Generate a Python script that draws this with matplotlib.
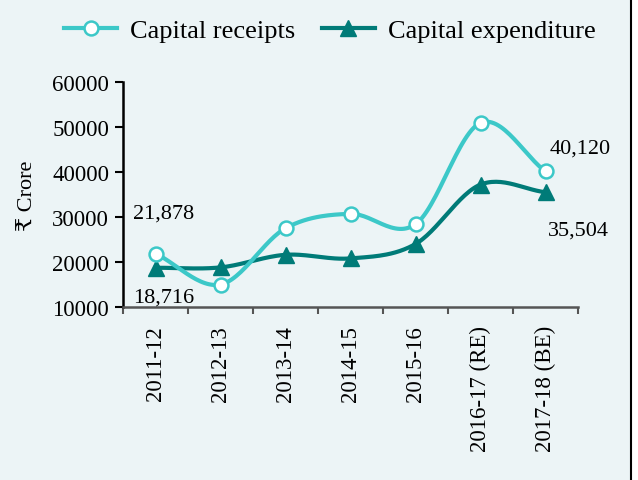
import matplotlib.pyplot as plt
import numpy as np
from matplotlib.lines import Line2D

years = ['2011-12', '2012-13', '2013-14', '2014-15', '2015-16',
         '2016-17 (RE)', '2017-18 (BE)']
receipts = [21878, 15000, 27500, 30700, 28400, 50900, 40120]
expenditure = [18716, 18800, 21600, 20800, 24000, 37200, 35504]
yticks = [10000, 20000, 30000, 40000, 50000, 60000]

c_rec = '#3cc8c8'
c_exp = '#007b78'
bg = '#ecf4f6'

plt.rcParams['font.family'] = ['Liberation Serif', 'DejaVu Serif', 'DejaVu Sans']


def smooth(x, y, n=30):
    # catmull-rom curve through the points, like a spreadsheet "smoothed line"
    x = np.asarray(x, float)
    y = np.asarray(y, float)
    px = np.concatenate([[2 * x[0] - x[1]], x, [2 * x[-1] - x[-2]]])
    py = np.concatenate([[2 * y[0] - y[1]], y, [2 * y[-1] - y[-2]]])
    xs, ys = [], []
    t = np.linspace(0, 1, n)
    for i in range(1, len(px) - 2):
        for p, out in ((px, xs), (py, ys)):
            p0, p1, p2, p3 = p[i - 1], p[i], p[i + 1], p[i + 2]
            out.extend(0.5 * (2 * p1 + (-p0 + p2) * t
                              + (2 * p0 - 5 * p1 + 4 * p2 - p3) * t ** 2
                              + (-p0 + 3 * p1 - 3 * p2 + p3) * t ** 3))
    return np.array(xs), np.array(ys)


fig = plt.figure(figsize=(6.38, 4.81), dpi=100)
fig.patch.set_facecolor('white')
fig.patches.append(plt.Rectangle((0, 0), 631 / 638, 1, transform=fig.transFigure,
                                 facecolor=bg, edgecolor='none', zorder=-10))
fig.lines.append(Line2D([631 / 638, 631 / 638], [0, 1], transform=fig.transFigure,
                        color='black', lw=1.5))

ax = fig.add_axes([123 / 638, 1 - 308 / 481, (578 - 123) / 638, (308 - 83) / 481])
ax.set_facecolor('none')

x = np.arange(len(years))
sx, sy = smooth(x, receipts)
ax.plot(sx, sy, color=c_rec, lw=3, zorder=2)
ax.plot(x, receipts, 'o', color=c_rec, mfc='white', mec=c_rec, mew=1.8, ms=10, zorder=4)
sx, sy = smooth(x, expenditure)
ax.plot(sx, sy, color=c_exp, lw=3, zorder=1)
ax.plot(x, expenditure, '^', color=c_exp, ms=11, zorder=3)

ax.set_xlim(-0.5, len(years) - 0.5)
ax.set_ylim(10000, 60000)
ax.set_yticks(yticks)
ax.set_yticklabels([str(v) for v in yticks], fontsize=16.5)
ax.set_xticks(np.arange(len(years) + 1) - 0.5)
ax.set_xticklabels([])
ax.set_xticks(x, minor=True)
ax.set_xticklabels(years, minor=True, rotation=90, fontsize=16.5)
ax.tick_params(axis='x', which='minor', length=0, pad=13)
ax.tick_params(axis='x', which='major', length=5, width=1.5, color='#555555')
ax.tick_params(axis='y', length=6, width=1.5, pad=4)
for s in ['top', 'right']:
    ax.spines[s].set_visible(False)
ax.spines['left'].set_linewidth(1.8)
ax.spines['bottom'].set_linewidth(1.8)
ax.spines['bottom'].set_color('#555555')
ax.set_ylabel('₹ Crore', fontsize=16, labelpad=10)

ax.text(-0.35, 30900, f'{receipts[0]:,}', fontsize=16, ha='left', va='center')
ax.text(-0.35, 12300, f'{expenditure[0]:,}', fontsize=16, ha='left', va='center')
ax.text(6.06, 45300, f'{receipts[-1]:,}', fontsize=16, ha='left', va='center')
ax.text(6.04, 27000, f'{expenditure[-1]:,}', fontsize=16, ha='left', va='center')

handles = [Line2D([], [], color=c_rec, lw=3, marker='o', mfc='white', mec=c_rec, mew=1.8, ms=10),
           Line2D([], [], color=c_exp, lw=3, marker='^', ms=11)]
fig.legend(handles, ['Capital receipts', 'Capital expenditure'], loc='center',
           bbox_to_anchor=(330 / 638, 1 - 31 / 481), ncol=2, frameon=False,
           fontsize=19, handlelength=2.0, columnspacing=1.0, handletextpad=0.5)

fig.savefig('out.png', dpi=100, facecolor=fig.get_facecolor())
